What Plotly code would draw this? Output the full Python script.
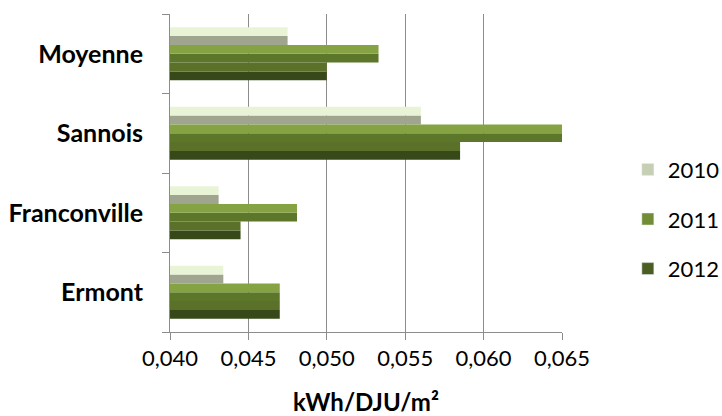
import plotly.graph_objects as go

categories = ["Ermont", "Franconville", "Sannois", "Moyenne"]
years = ["2010", "2011", "2012"]
v2010 = [0.0434, 0.0431, 0.0560, 0.0475]
v2011 = [0.0470, 0.0481, 0.0650, 0.0533]
v2012 = [0.0470, 0.0445, 0.0585, 0.0500]
x_tick_vals = [0.040, 0.045, 0.050, 0.055, 0.060, 0.065]
x_tick_text = ["0,040", "0,045", "0,050", "0,055", "0,060", "0,065"]
x_title = "kWh/DJU/m²"

series = {"2010": v2010, "2011": v2011, "2012": v2012}
# (top colour, bottom colour, legend colour)
colors = {
    "2010": ("#e9f4d6", "#9fa58f", "#c6cfb4"),
    "2011": ("#86a344", "#5d772a", "#718d36"),
    "2012": ("#5b7029", "#374819", "#4a5e22"),
}
bar_w = 0.222
centers = {"2010": bar_w, "2011": 0.0, "2012": -bar_w}

FONT = "Lato"
fig = go.Figure()

# legend entries
for yr in years:
    fig.add_trace(go.Bar(
        x=[None], y=[None], orientation="h", name=yr,
        marker_color=colors[yr][2], legendgroup=yr, showlegend=True,
    ))

for yr in years:
    vals = series[yr]
    c = centers[yr]
    top, bot, _ = colors[yr]
    fig.add_trace(go.Bar(
        x=vals, y=categories, orientation="h", name=yr,
        marker=dict(color=bot, line=dict(width=0)),
        offset=c - bar_w / 2, width=bar_w / 2,
        legendgroup=yr, showlegend=False,
    ))
    fig.add_trace(go.Bar(
        x=vals, y=categories, orientation="h", name=yr,
        marker=dict(color=top, line=dict(width=0)),
        offset=c, width=bar_w / 2,
        legendgroup=yr, showlegend=False,
    ))

axis_col = "#8c8c8c"
fig.update_layout(
    width=722, height=416,
    margin=dict(l=170, r=160, t=14, b=84, autoexpand=False),
    paper_bgcolor="white", plot_bgcolor="white",
    barmode="overlay",
    font=dict(family=FONT, size=22, color="#000000"),
    xaxis=dict(
        range=[0.040, 0.065], automargin=False,
        tickvals=x_tick_vals, ticktext=x_tick_text,
        showgrid=True, gridcolor=axis_col, gridwidth=1,
        showline=True, linecolor=axis_col, linewidth=1,
        ticks="outside", ticklen=7, tickcolor=axis_col,
        zeroline=False,
        tickfont=dict(family=FONT, size=22),
        title=dict(text="<b>" + x_title + "</b>", font=dict(family=FONT, size=24), standoff=33),
    ),
    yaxis=dict(
        type="category", categoryorder="array", categoryarray=categories,
        range=[-0.5, 3.5], automargin=False,
        showgrid=False, showline=True, linecolor=axis_col, linewidth=1,
        ticks="outside", ticklen=7, tickcolor=axis_col, tickson="boundaries",
        ticklabelstandoff=21,
        tickfont=dict(family=FONT, size=25, weight="bold"),
    ),
    legend=dict(
        x=1.168, y=0.355, xanchor="left", yanchor="middle",
        traceorder="grouped", tracegroupgap=18,
        font=dict(family=FONT, size=22),
        bgcolor="rgba(0,0,0,0)",
    ),
)

fig.write_html(
    "out.html",
    config={"displayModeBar": False},
    post_script="document.body.style.margin='0';document.body.style.overflow='hidden';",
)
